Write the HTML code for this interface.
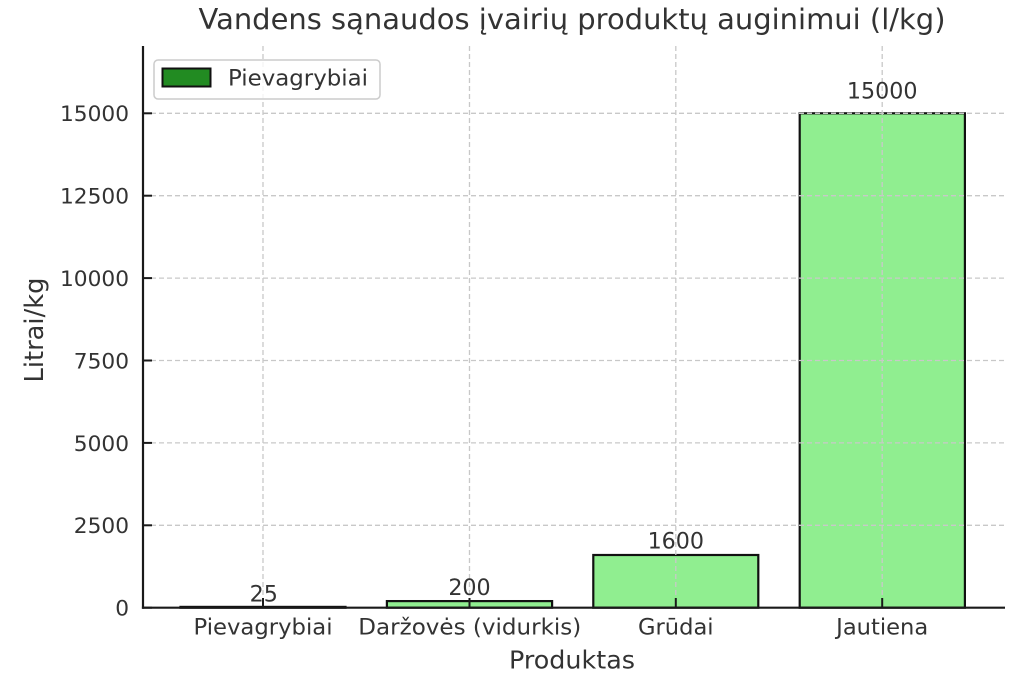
<!DOCTYPE html>
<html>
<head>
<meta charset="utf-8">
<style>
  html, body { margin: 0; padding: 0; background: #ffffff; }
  svg { display: block; }
  text { font-family: "DejaVu Sans", "Liberation Sans", sans-serif; fill: #333333; }
</style>
</head>
<body>
<svg width="1024" height="683" viewBox="0 0 1024 683" xmlns="http://www.w3.org/2000/svg">
  <rect x="0" y="0" width="1024" height="683" fill="#ffffff"/>

  <!-- Bars -->
  <rect x="180.5" y="606.9" width="165" height="0.8" fill="#228B22" stroke="#111" stroke-width="2.2"/>
  <rect x="386.9" y="601.1" width="165.2" height="6.6" fill="#90EE90" stroke="#111" stroke-width="2.2"/>
  <rect x="593.3" y="555.0" width="165" height="52.7" fill="#90EE90" stroke="#111" stroke-width="2.2"/>
  <rect x="799.7" y="113.3" width="165.2" height="494.4" fill="#90EE90" stroke="#111" stroke-width="2.2"/>

  <!-- Grid -->
  <g stroke="#c8c8c8" stroke-width="1.3" stroke-dasharray="5,3" fill="none">
    <line x1="263" y1="46" x2="263" y2="607.7"/>
    <line x1="469.5" y1="46" x2="469.5" y2="607.7"/>
    <line x1="675.8" y1="46" x2="675.8" y2="607.7"/>
    <line x1="882.2" y1="46" x2="882.2" y2="607.7"/>
    <line x1="143" y1="525.3" x2="1005" y2="525.3"/>
    <line x1="143" y1="442.9" x2="1005" y2="442.9"/>
    <line x1="143" y1="360.5" x2="1005" y2="360.5"/>
    <line x1="143" y1="278.1" x2="1005" y2="278.1"/>
    <line x1="143" y1="195.7" x2="1005" y2="195.7"/>
    <line x1="143" y1="113.3" x2="1005" y2="113.3"/>
  </g>

  <!-- Spines -->
  <g stroke="#1a1a1a" stroke-width="2.2" fill="none">
    <line x1="143" y1="46" x2="143" y2="608.8"/>
    <line x1="141.9" y1="607.7" x2="1005" y2="607.7"/>
  </g>

  <!-- Ticks (inward) -->
  <g stroke="#1a1a1a" stroke-width="2" fill="none">
    <line x1="143" y1="607.7" x2="152" y2="607.7"/>
    <line x1="143" y1="525.3" x2="152" y2="525.3"/>
    <line x1="143" y1="442.9" x2="152" y2="442.9"/>
    <line x1="143" y1="360.5" x2="152" y2="360.5"/>
    <line x1="143" y1="278.1" x2="152" y2="278.1"/>
    <line x1="143" y1="195.7" x2="152" y2="195.7"/>
    <line x1="143" y1="113.3" x2="152" y2="113.3"/>
    <line x1="263" y1="607.7" x2="263" y2="598"/>
    <line x1="469.5" y1="607.7" x2="469.5" y2="598"/>
    <line x1="675.8" y1="607.7" x2="675.8" y2="598"/>
    <line x1="882.2" y1="607.7" x2="882.2" y2="598"/>
  </g>

  <!-- Y tick labels -->
  <g font-size="21.7" text-anchor="end">
    <text x="129" y="615.6">0</text>
    <text x="129" y="533.2">2500</text>
    <text x="129" y="450.8">5000</text>
    <text x="129" y="368.4">7500</text>
    <text x="129" y="286.0">10000</text>
    <text x="129" y="203.6">12500</text>
    <text x="129" y="121.2">15000</text>
  </g>

  <!-- X tick labels -->
  <g font-size="22.6" text-anchor="middle">
    <text x="263" y="634.3" textLength="139" lengthAdjust="spacingAndGlyphs">Pievagrybiai</text>
    <text x="469.8" y="634.3" textLength="223" lengthAdjust="spacingAndGlyphs">Daržovės (vidurkis)</text>
    <text x="675.8" y="634.3">Grūdai</text>
    <text x="882.2" y="634.3">Jautiena</text>
  </g>

  <!-- Bar value labels -->
  <g font-size="22.2" text-anchor="middle">
    <text x="263.7" y="601.7">25</text>
    <text x="469.5" y="595">200</text>
    <text x="675.8" y="548.5">1600</text>
    <text x="882.2" y="98.5">15000</text>
  </g>

  <!-- Axis labels -->
  <text x="572" y="668.3" font-size="25.2" text-anchor="middle" textLength="126" lengthAdjust="spacingAndGlyphs">Produktas</text>
  <text transform="translate(43,330) rotate(-90)" x="0" y="0" font-size="25.5" text-anchor="middle" textLength="105" lengthAdjust="spacingAndGlyphs">Litrai/kg</text>

  <!-- Title -->
  <text x="572" y="29" font-size="28.6" text-anchor="middle" fill="#3a3a3a" textLength="747" lengthAdjust="spacingAndGlyphs">Vandens sąnaudos įvairių produktų auginimui (l/kg)</text>

  <!-- Legend -->
  <rect x="154" y="60" width="226" height="39" rx="4" ry="4" fill="#ffffff" fill-opacity="0.8" stroke="#cccccc" stroke-width="1.5"/>
  <rect x="162.5" y="68.5" width="48" height="18" fill="#228B22" stroke="#111" stroke-width="2"/>
  <text x="228" y="85.3" font-size="22" textLength="140" lengthAdjust="spacingAndGlyphs">Pievagrybiai</text>
</svg>
</body>
</html>
